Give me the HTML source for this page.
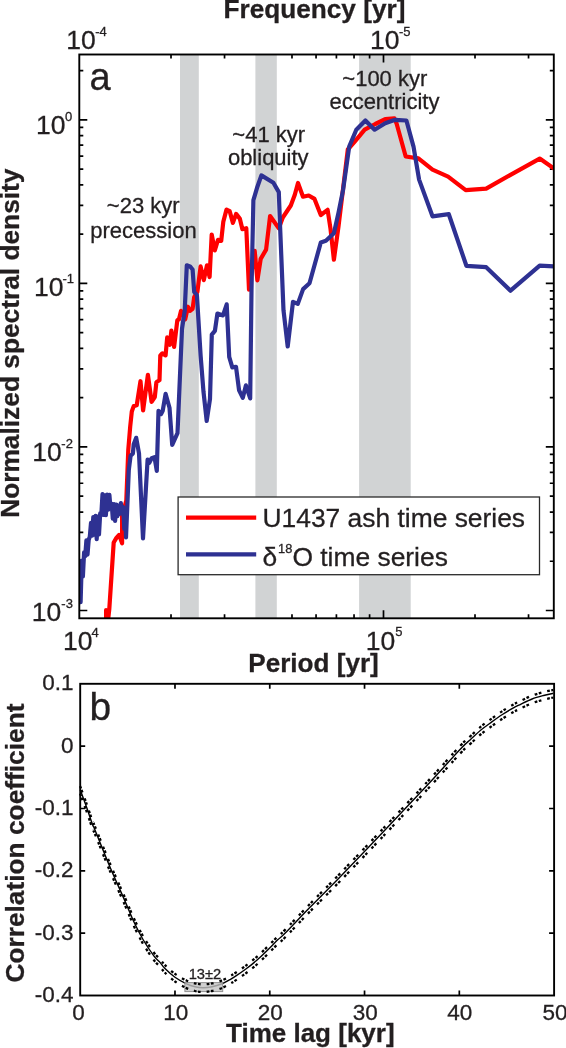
<!DOCTYPE html>
<html><head><meta charset="utf-8"><style>
html,body{margin:0;padding:0;background:#fff;overflow:hidden;width:566px;height:1048px;}
svg{display:block;will-change:transform;}
text{font-family:"Liberation Sans",sans-serif;fill:#231f20;stroke:#231f20;stroke-width:0.3px;}
</style></head><body>
<svg width="566" height="1048" viewBox="0 0 566 1048">
<rect width="566" height="1048" fill="#fff"/>
<rect x="180.0" y="54.5" width="18.8" height="563.8" fill="#d1d3d4"/>
<rect x="255.4" y="54.5" width="21.4" height="563.8" fill="#d1d3d4"/>
<rect x="359.1" y="54.5" width="51.6" height="563.8" fill="#d1d3d4"/>
<path d="M79.3,610.51h8M553.8,610.51h-8M79.3,561.27h4M553.8,561.27h-4M79.3,532.47h4M553.8,532.47h-4M79.3,512.03h4M553.8,512.03h-4M79.3,496.18h4M553.8,496.18h-4M79.3,483.23h4M553.8,483.23h-4M79.3,472.28h4M553.8,472.28h-4M79.3,462.79h4M553.8,462.79h-4M79.3,454.42h4M553.8,454.42h-4M79.3,446.94h8M553.8,446.94h-8M79.3,397.70h4M553.8,397.70h-4M79.3,368.90h4M553.8,368.90h-4M79.3,348.46h4M553.8,348.46h-4M79.3,332.61h4M553.8,332.61h-4M79.3,319.66h4M553.8,319.66h-4M79.3,308.71h4M553.8,308.71h-4M79.3,299.22h4M553.8,299.22h-4M79.3,290.85h4M553.8,290.85h-4M79.3,283.37h8M553.8,283.37h-8M79.3,234.13h4M553.8,234.13h-4M79.3,205.33h4M553.8,205.33h-4M79.3,184.89h4M553.8,184.89h-4M79.3,169.04h4M553.8,169.04h-4M79.3,156.09h4M553.8,156.09h-4M79.3,145.14h4M553.8,145.14h-4M79.3,135.65h4M553.8,135.65h-4M79.3,127.28h4M553.8,127.28h-4M79.3,119.80h8M553.8,119.80h-8M79.3,70.56h4M553.8,70.56h-4M171.01,618.3v-4M171.01,54.5v4M224.54,618.3v-4M224.54,54.5v4M291.99,618.3v-4M291.99,54.5v4M316.06,618.3v-4M316.06,54.5v4M336.41,618.3v-4M336.41,54.5v4M354.04,618.3v-4M354.04,54.5v4M369.59,618.3v-4M369.59,54.5v4M383.50,618.3v-8M383.50,54.5v8M475.01,618.3v-4M475.01,54.5v4M528.54,618.3v-4M528.54,54.5v4" stroke="#000" stroke-width="1.7" fill="none"/>
<clipPath id="ca"><rect x="79.3" y="54.5" width="474.5" height="563.8"/></clipPath>
<g clip-path="url(#ca)">
<polyline points="106.1,620.0 106.1,610.0 108.1,620.0 109.3,609.0 113.7,542.5 116.4,537.9 119.1,534.9 122.1,543.3 122.1,515.8 126.3,500.5 127.5,470.0 128.3,449.6 130.2,426.7 131.8,411.5 133.7,406.1 136.7,405.3 140.5,381.2 143.1,410.4 147.9,374.8 151.6,401.9 154.8,397.1 156.4,382.3 159.5,380.1 160.3,355.4 162.4,353.3 165.6,355.4 167.2,337.4 169.8,344.8 171.4,330.5 174.1,347.0 177.3,320.4 178.9,319.4 181.0,310.9 185.2,319.4 187.9,306.7 190.0,310.9 192.6,308.8 194.2,297.1 197.4,291.8 200.6,266.4 203.8,280.1 207.0,265.3 209.6,277.0 211.7,234.5 214.8,250.4 218.0,239.8 221.2,240.9 223.3,221.8 226.5,209.6 229.7,211.2 232.9,222.9 236.1,213.9 239.8,218.6 242.4,229.2 246.3,228.2 249.0,289.7 254.7,250.9 257.4,280.3 260.7,258.9 266.1,249.6 270.1,216.1 278.8,228.2 282.8,217.5 290.8,205.5 294.8,194.8 298.0,183.0 303.0,196.7 308.7,195.5 314.5,198.9 320.8,215.0 327.6,209.8 330.5,228.7 333.9,259.7 338.5,226.4 343.1,188.6 347.8,149.5 354.1,142.4 364.7,129.7 375.3,124.0 385.2,119.1 394.4,118.4 396.5,123.3 405.7,156.5 418.4,158.4 432.5,169.7 448.1,176.7 465.7,190.2 486.2,188.6 510.5,174.8 539.7,158.6 554.0,168.5" fill="none" stroke="#ff0000" stroke-width="4.2" stroke-linejoin="round" stroke-linecap="round"/>
<polyline points="80.6,602.2 81.8,560.6 82.9,576.4 84.1,552.3 85.2,556.2 86.4,540.4 87.5,554.6 88.7,539.8 89.8,536.8 91.0,522.9 92.1,535.7 93.3,517.0 94.4,534.7 95.6,515.9 96.7,539.1 97.9,516.6 99.0,534.5 100.2,513.3 101.3,515.1 102.5,494.1 103.6,515.0 104.8,495.4 105.9,515.2 107.1,494.6 108.2,509.7 109.4,494.8 110.5,508.5 111.7,503.9 112.8,518.7 114.0,504.2 115.1,520.8 116.3,504.6 117.4,516.2 118.6,505.5 119.7,513.8 120.9,503.1 122.0,513.5 123.2,507.1 124.3,528.9 125.5,522.0 126.0,537.5 128.8,470.0 130.6,455.7 132.9,453.4 133.7,444.3 136.2,437.8 139.0,453.4 143.0,538.4 147.6,459.5 149.3,462.9 151.6,458.3 154.5,457.2 156.8,470.9 158.5,410.9 161.1,414.1 162.7,410.9 165.6,393.9 169.5,407.7 172.2,444.8 177.5,433.2 182.0,328.9 184.7,310.9 186.8,265.3 190.0,266.4 192.6,269.5 194.2,291.8 196.9,295.0 200.6,355.4 203.5,391.8 206.7,421.0 210.0,399.0 211.8,334.6 214.9,330.9 217.4,313.5 223.0,315.4 226.7,304.3 229.2,356.9 232.3,367.4 236.0,366.8 239.1,390.4 242.8,397.8 245.9,385.4 250.2,398.4 251.5,290.0 253.4,200.1 257.4,186.7 261.4,175.4 273.4,182.7 278.8,192.1 280.1,226.8 283.5,310.3 287.7,346.4 293.0,301.8 297.8,303.9 303.1,289.1 309.5,283.3 320.8,242.5 325.9,240.8 333.9,233.3 338.5,212.7 343.1,189.8 349.2,146.6 356.3,129.7 365.4,120.5 374.6,129.7 385.2,123.3 395.1,119.8 406.4,120.5 413.5,146.6 419.1,179.6 432.5,216.3 448.8,214.2 466.4,265.8 486.2,267.2 510.5,290.7 539.7,265.6 554.0,266.4" fill="none" stroke="#2e3192" stroke-width="4.2" stroke-linejoin="round" stroke-linecap="round"/>
</g>
<rect x="79.3" y="54.5" width="474.5" height="563.8" fill="none" stroke="#000" stroke-width="1.9"/>
<rect x="178.1" y="497" width="361.4" height="77.7" fill="#fff" stroke="#2a2a2a" stroke-width="1.3"/>
<line x1="186" y1="517.7" x2="256.2" y2="517.7" stroke="#ff0000" stroke-width="4.2"/>
<line x1="186" y1="554.4" x2="256.2" y2="554.4" stroke="#2e3192" stroke-width="4.2"/>
<path d="M80.2,746.14h5M554.1,746.14h-5M80.2,808.48h5M554.1,808.48h-5M80.2,870.82h5M554.1,870.82h-5M80.2,933.16h5M554.1,933.16h-5M174.98,995.5v-5M174.98,683.8v5M269.76,995.5v-5M269.76,683.8v5M364.54,995.5v-5M364.54,683.8v5M459.32,995.5v-5M459.32,683.8v5" stroke="#000" stroke-width="1.7" fill="none"/>
<path d="M80.10,789.50 C81.17,792.42 84.40,801.08 86.50,807.00 C88.60,812.92 91.28,821.17 92.70,825.00 C94.12,828.83 92.07,822.88 95.00,830.00 C97.93,837.12 105.30,855.85 110.30,867.70 C115.30,879.55 121.02,891.97 125.00,901.10 C128.98,910.23 131.15,916.02 134.20,922.50 C137.25,928.98 140.00,934.40 143.30,940.00 C146.60,945.60 151.22,952.37 154.00,956.10 C156.78,959.83 158.22,960.37 160.00,962.40 C161.78,964.43 162.20,965.82 164.70,968.30 C167.20,970.78 171.37,974.70 175.00,977.30 C178.63,979.90 183.17,982.32 186.50,983.90 C189.83,985.48 192.25,986.17 195.00,986.80 C197.75,987.43 200.17,987.70 203.00,987.70 C205.83,987.70 208.92,987.42 212.00,986.80 C215.08,986.18 218.50,985.20 221.50,984.00 C224.50,982.80 227.65,980.90 230.00,979.60 C232.35,978.30 232.90,978.00 235.60,976.20 C238.30,974.40 242.67,971.45 246.20,968.80 C249.73,966.15 253.27,963.40 256.80,960.30 C260.33,957.20 263.87,953.65 267.40,950.20 C270.93,946.75 275.07,942.42 278.00,939.60 C280.93,936.78 279.67,938.68 285.00,933.30 C290.33,927.92 300.83,916.68 310.00,907.30 C319.17,897.92 327.27,890.12 340.00,877.00 C352.73,863.88 371.78,843.97 386.40,828.60 C401.02,813.23 415.43,797.98 427.70,784.80 C439.97,771.62 452.85,757.07 460.00,749.50 C467.15,741.93 467.07,742.68 470.60,739.40 C474.13,736.12 477.67,732.72 481.20,729.80 C484.73,726.88 488.27,724.45 491.80,721.90 C495.33,719.35 498.87,716.80 502.40,714.50 C505.93,712.20 509.97,709.80 513.00,708.10 C516.03,706.40 517.42,705.82 520.60,704.30 C523.78,702.78 528.27,700.47 532.10,699.00 C535.93,697.53 540.07,696.45 543.60,695.50 C547.13,694.55 551.68,693.67 553.30,693.30" fill="none" stroke="#000" stroke-width="1.4"/>
<rect x="184.9" y="982.6" width="37.8" height="9.0" fill="#c4c4c4" fill-opacity="0.8" stroke="#909090" stroke-width="1"/>
<path d="M80.10,786.10 C81.17,789.02 84.40,797.68 86.50,803.60 C88.60,809.52 91.28,817.77 92.70,821.60 C94.12,825.43 92.07,819.48 95.00,826.60 C97.93,833.72 105.30,852.45 110.30,864.30 C115.30,876.15 121.02,888.57 125.00,897.70 C128.98,906.83 131.15,912.62 134.20,919.10 C137.25,925.58 140.00,931.00 143.30,936.60 C146.60,942.20 151.22,948.97 154.00,952.70 C156.78,956.43 158.22,956.97 160.00,959.00 C161.78,961.03 162.20,962.42 164.70,964.90 C167.20,967.38 171.37,971.30 175.00,973.90 C178.63,976.50 183.17,978.92 186.50,980.50 C189.83,982.08 192.25,982.77 195.00,983.40 C197.75,984.03 200.17,984.30 203.00,984.30 C205.83,984.30 208.92,984.02 212.00,983.40 C215.08,982.78 218.50,981.80 221.50,980.60 C224.50,979.40 227.65,977.50 230.00,976.20 C232.35,974.90 232.90,974.60 235.60,972.80 C238.30,971.00 242.67,968.05 246.20,965.40 C249.73,962.75 253.27,960.00 256.80,956.90 C260.33,953.80 263.87,950.25 267.40,946.80 C270.93,943.35 275.07,939.02 278.00,936.20 C280.93,933.38 279.67,935.28 285.00,929.90 C290.33,924.52 300.83,913.28 310.00,903.90 C319.17,894.52 327.27,886.72 340.00,873.60 C352.73,860.48 371.78,840.57 386.40,825.20 C401.02,809.83 415.43,794.58 427.70,781.40 C439.97,768.22 452.85,753.67 460.00,746.10 C467.15,738.53 467.07,739.28 470.60,736.00 C474.13,732.72 477.67,729.32 481.20,726.40 C484.73,723.48 488.27,721.05 491.80,718.50 C495.33,715.95 498.87,713.40 502.40,711.10 C505.93,708.80 509.97,706.40 513.00,704.70 C516.03,703.00 517.42,702.42 520.60,700.90 C523.78,699.38 528.27,697.07 532.10,695.60 C535.93,694.13 540.07,693.05 543.60,692.10 C547.13,691.15 551.68,690.27 553.30,689.90" fill="none" stroke="#000" stroke-width="2.3" stroke-dasharray="2.7 1.5 2.7 6.1"/>
<path d="M80.10,793.70 C81.17,796.62 84.40,805.28 86.50,811.20 C88.60,817.12 91.28,825.37 92.70,829.20 C94.12,833.03 92.07,827.08 95.00,834.20 C97.93,841.32 105.30,860.05 110.30,871.90 C115.30,883.75 121.02,896.17 125.00,905.30 C128.98,914.43 131.15,920.22 134.20,926.70 C137.25,933.18 140.00,938.60 143.30,944.20 C146.60,949.80 151.22,956.57 154.00,960.30 C156.78,964.03 158.22,964.57 160.00,966.60 C161.78,968.63 162.20,970.02 164.70,972.50 C167.20,974.98 171.37,978.90 175.00,981.50 C178.63,984.10 183.17,986.52 186.50,988.10 C189.83,989.68 192.25,990.37 195.00,991.00 C197.75,991.63 200.17,991.90 203.00,991.90 C205.83,991.90 208.92,991.62 212.00,991.00 C215.08,990.38 218.50,989.40 221.50,988.20 C224.50,987.00 227.65,985.10 230.00,983.80 C232.35,982.50 232.90,982.20 235.60,980.40 C238.30,978.60 242.67,975.65 246.20,973.00 C249.73,970.35 253.27,967.60 256.80,964.50 C260.33,961.40 263.87,957.85 267.40,954.40 C270.93,950.95 275.07,946.62 278.00,943.80 C280.93,940.98 279.67,942.88 285.00,937.50 C290.33,932.12 300.83,920.88 310.00,911.50 C319.17,902.12 327.27,894.32 340.00,881.20 C352.73,868.08 371.78,848.17 386.40,832.80 C401.02,817.43 415.43,802.18 427.70,789.00 C439.97,775.82 452.85,761.27 460.00,753.70 C467.15,746.13 467.07,746.88 470.60,743.60 C474.13,740.32 477.67,736.92 481.20,734.00 C484.73,731.08 488.27,728.65 491.80,726.10 C495.33,723.55 498.87,721.00 502.40,718.70 C505.93,716.40 509.97,714.00 513.00,712.30 C516.03,710.60 517.42,710.02 520.60,708.50 C523.78,706.98 528.27,704.67 532.10,703.20 C535.93,701.73 540.07,700.65 543.60,699.70 C547.13,698.75 551.68,697.87 553.30,697.50" fill="none" stroke="#000" stroke-width="2.3" stroke-dasharray="2.7 1.5 2.7 6.1"/>
<rect x="80.2" y="683.8" width="473.9" height="311.7" fill="none" stroke="#000" stroke-width="1.9"/>
<text x="223.50" y="18.40" font-size="26.2" font-weight="bold">Frequency [yr]</text>
<text x="248.30" y="671.50" font-size="26.1" font-weight="bold">Period [yr]</text>
<text x="226.00" y="1042.40" font-size="26.0" font-weight="bold">Time lag [kyr]</text>
<text transform="translate(18.7,517.8) rotate(-90)" font-size="26.3" font-weight="bold">Normalized spectral density</text>
<text transform="translate(24.3,982.6) rotate(-90)" font-size="26.3" font-weight="bold">Correlation coefficient</text>
<text x="66.30" y="49.20" font-size="26.5">10</text>
<text x="370.00" y="49.20" font-size="26.5">10</text>
<text x="36.05" y="134.10" font-size="26.5">10</text>
<text x="33.90" y="296.00" font-size="26.5">10</text>
<text x="32.30" y="460.80" font-size="26.5">10</text>
<text x="31.80" y="621.00" font-size="26.5">10</text>
<text x="63.10" y="649.90" font-size="26.5">10</text>
<text x="365.70" y="649.70" font-size="26.5">10</text>
<text x="95.20" y="36.40" font-size="13.0">-4</text>
<text x="398.90" y="36.40" font-size="13.0">-5</text>
<text x="65.06" y="120.60" font-size="13.0">0</text>
<text x="62.40" y="282.50" font-size="13.0">-1</text>
<text x="61.30" y="447.50" font-size="13.0">-2</text>
<text x="61.30" y="608.00" font-size="13.0">-3</text>
<text x="91.60" y="637.00" font-size="13.0">4</text>
<text x="395.30" y="636.40" font-size="13.0">5</text>
<text x="89.50" y="90.00" font-size="38">a</text>
<text x="89.50" y="719.80" font-size="39">b</text>
<text x="342.30" y="85.50" font-size="22">~100 kyr</text>
<text x="329.40" y="109.30" font-size="22">eccentricity</text>
<text x="232.30" y="142.00" font-size="22">~41 kyr</text>
<text x="227.90" y="165.20" font-size="22">obliquity</text>
<text x="106.80" y="213.40" font-size="22">~23 kyr</text>
<text x="90.30" y="237.60" font-size="22">precession</text>
<text x="262.50" y="527.00" font-size="26.4">U1437 ash time series</text>
<text x="262.50" y="565.70" font-size="26.4">δ</text>
<text x="278.10" y="552.50" font-size="12.8">18</text>
<text x="292.40" y="565.70" font-size="26.4">O time series</text>
<text x="73.50" y="690.10" font-size="22.5" text-anchor="end">0.1</text>
<text x="73.50" y="752.50" font-size="22.5" text-anchor="end">0</text>
<text x="73.50" y="814.70" font-size="22.5" text-anchor="end">-0.1</text>
<text x="73.50" y="877.40" font-size="22.5" text-anchor="end">-0.2</text>
<text x="73.50" y="939.60" font-size="22.5" text-anchor="end">-0.3</text>
<text x="73.50" y="1002.00" font-size="22.5" text-anchor="end">-0.4</text>
<text x="72.20" y="1020.00" font-size="22.5">0</text>
<text x="163.31" y="1020.00" font-size="22.5">10</text>
<text x="257.68" y="1020.00" font-size="22.5">20</text>
<text x="352.86" y="1020.00" font-size="22.5">30</text>
<text x="447.29" y="1020.00" font-size="22.5">40</text>
<text x="542.40" y="1020.00" font-size="22.5">50</text>
<text x="188.70" y="978.50" font-size="14.7">13±2</text>
</svg>
</body></html>
